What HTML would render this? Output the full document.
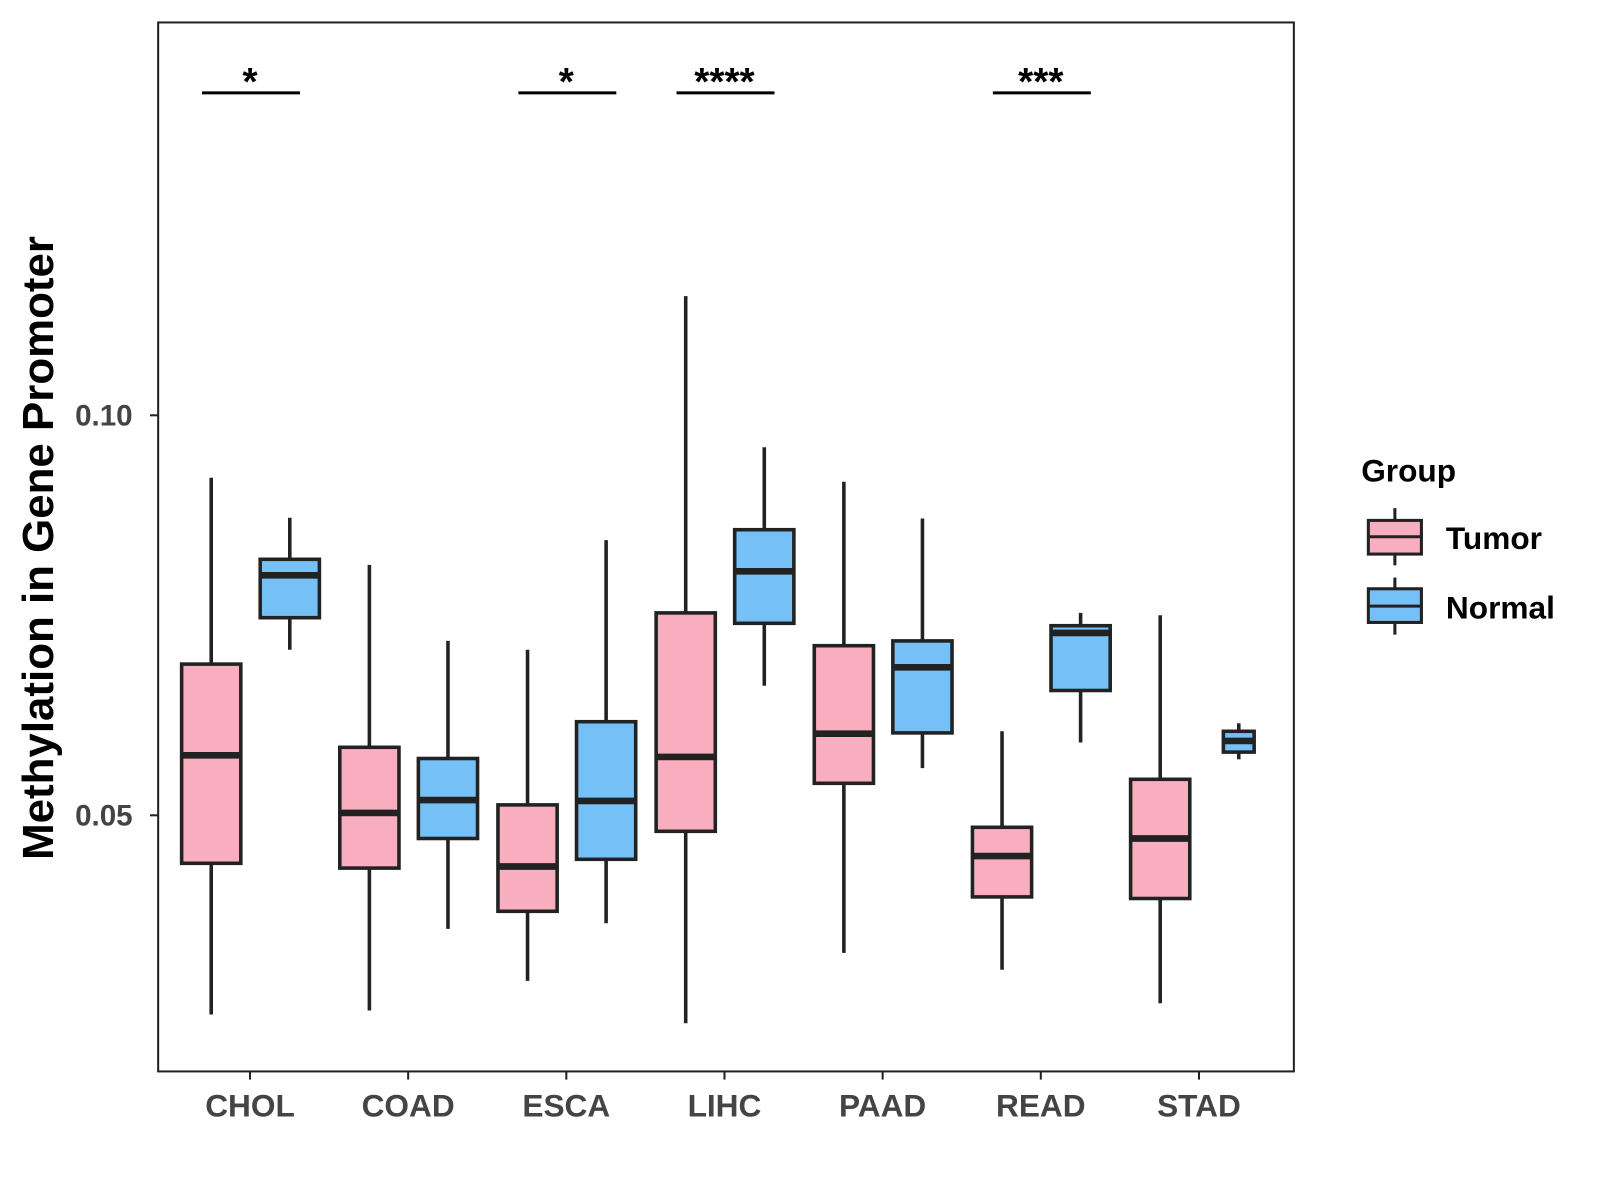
<!DOCTYPE html>
<html><head><meta charset="utf-8"><style>
html,body{margin:0;padding:0;background:#fff;}
svg{display:block;font-family:"Liberation Sans",Arial,sans-serif;}
</style></head><body>
<svg id="chart" width="1600" height="1200" viewBox="0 0 1600 1200">
<g transform="scale(1.0204)">
<rect x="155" y="22" width="1113" height="1028" fill="#fff" stroke="#222" stroke-width="2"/>
<g id="marks"></g>
<text transform="translate(52,537) rotate(-90)" text-anchor="middle" font-size="43" font-weight="bold" fill="#000">Methylation in Gene Promoter</text>
<g>
<text x="1334" y="472" font-size="31" font-weight="bold" fill="#000">Group</text>
<g>
<line x1="1367" y1="498" x2="1367" y2="554" stroke="#222" stroke-width="3"/>
<rect x="1341" y="510" width="52" height="33" fill="#F9AEC0" stroke="#222" stroke-width="3"/>
<line x1="1341" y1="526" x2="1393" y2="526" stroke="#222" stroke-width="3"/>
<text x="1417" y="538" font-size="31" font-weight="bold" fill="#000">Tumor</text>
</g>
<g>
<line x1="1367" y1="566" x2="1367" y2="622" stroke="#222" stroke-width="3"/>
<rect x="1341" y="577" width="52" height="33" fill="#74C0F7" stroke="#222" stroke-width="3"/>
<line x1="1341" y1="594" x2="1393" y2="594" stroke="#222" stroke-width="3"/>
<text x="1417" y="606" font-size="31" font-weight="bold" fill="#000">Normal</text>
</g>
</g>
</g>
</svg>
<script>
const categories=["CHOL","COAD","ESCA","LIHC","PAAD","READ","STAD"];
// [low, q1, median, q3, high]
const tumorStats=[
[0.0251,0.0440,0.0575,0.0689,0.0922],
[0.0256,0.0434,0.0503,0.0585,0.0813],
[0.0293,0.0380,0.0436,0.0513,0.0707],
[0.0240,0.0480,0.0573,0.0753,0.1149],
[0.0328,0.0540,0.0602,0.0712,0.0917],
[0.0307,0.0398,0.0449,0.0485,0.0605],
[0.0265,0.0396,0.0471,0.0545,0.0750]];
const normalStats=[
[0.0707,0.0747,0.0800,0.0820,0.0872],
[0.0358,0.0471,0.0519,0.0571,0.0718],
[0.0365,0.0445,0.0518,0.0617,0.0844],
[0.0662,0.0740,0.0805,0.0857,0.0960],
[0.0559,0.0603,0.0685,0.0718,0.0871],
[0.0591,0.0656,0.0728,0.0737,0.0753],
[0.0570,0.0579,0.0593,0.0605,0.0615]];
const normalWidthFactor=[1,1,1,1,1,1,0.52];
const sigLabels=["*","","*","****","","***",""];
const yTicks=[0.05,0.10];
const yTickLabels=["0.05","0.10"];

const NS="http://www.w3.org/2000/svg";
const g=document.getElementById("marks");
function y(v){return 407+(0.10-v)*7840;}
function x(i){return 245+i*155;}
function mk(tag,attrs,parent){const e=document.createElementNS(NS,tag);for(const k in attrs)e.setAttribute(k,attrs[k]);(parent||g).appendChild(e);return e;}

yTicks.forEach((t,i)=>{
  const tk=mk("line",{x1:147,x2:155,y1:y(t),y2:y(t),stroke:"#222","stroke-width":2});
  
  
  const lb=mk("text",{x:130,y:y(t)+10,"text-anchor":"end","font-size":29,"font-weight":"bold",fill:"#444"});
  lb.textContent=yTickLabels[i];
  
  
});
categories.forEach((c,i)=>{
  const tk=mk("line",{x1:x(i),x2:x(i),y1:1050,y2:1058,stroke:"#222","stroke-width":2});
  
  
  const lb=mk("text",{x:x(i),y:1094,"text-anchor":"middle","font-size":31,"font-weight":"bold",fill:"#444"});
  lb.textContent=c;
  
  
});
function box(cx,s,w,fill,name){
  const grp=mk("g",{});
  
  
  mk("line",{x1:cx,x2:cx,y1:y(s[4]),y2:y(s[0]),stroke:"#222","stroke-width":3.5},grp);
  mk("rect",{x:cx-w/2,y:y(s[3]),width:w,height:y(s[1])-y(s[3]),fill:fill,stroke:"#222","stroke-width":3.5},grp);
  mk("line",{x1:cx-w/2,x2:cx+w/2,y1:y(s[2]),y2:y(s[2]),stroke:"#222","stroke-width":6.5},grp);
}
categories.forEach((c,i)=>{
  box(x(i)-38,tumorStats[i],58,"#F9AEC0","box-tumor-"+c.toLowerCase());
  box(x(i)+39,normalStats[i],58*normalWidthFactor[i],"#74C0F7","box-normal-"+c.toLowerCase());
  if(sigLabels[i]){
    const ln=mk("line",{x1:x(i)-47,x2:x(i)+49,y1:91,y2:91,stroke:"#000","stroke-width":3});
    
    
    const t=mk("text",{x:x(i),y:93,"text-anchor":"middle","font-size":38,"font-weight":"bold",fill:"#000"});
    t.textContent=sigLabels[i];
    
    
  }
});
</script>
</body></html>
